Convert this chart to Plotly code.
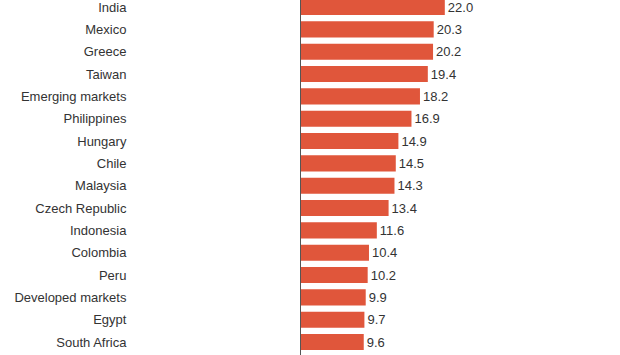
import plotly.graph_objects as go

countries = ["India", "Mexico", "Greece", "Taiwan", "Emerging markets", "Philippines",
             "Hungary", "Chile", "Malaysia", "Czech Republic", "Indonesia", "Colombia",
             "Peru", "Developed markets", "Egypt", "South Africa"]
values = [22.0, 20.3, 20.2, 19.4, 18.2, 16.9, 14.9, 14.5, 14.3, 13.4, 11.6, 10.4,
          10.2, 9.9, 9.7, 9.6]

fig = go.Figure(go.Bar(
    x=values, y=countries, orientation="h",
    marker=dict(color="#E0563B", line=dict(width=0)),
    width=0.72,
    text=[f"{v:.1f}" for v in values], textposition="outside",
    textfont=dict(family="Liberation Sans, Arial", size=13, color="#333333"),
    cliponaxis=False,
))

n = len(countries)
fig.update_layout(
    width=620, height=355,
    margin=dict(l=301, r=0, t=0, b=0),
    paper_bgcolor="white", plot_bgcolor="white",
    showlegend=False,
    font=dict(family="Liberation Sans, Arial", size=13, color="#333333"),
    xaxis=dict(range=[0, 48.8], visible=False, fixedrange=True),
    yaxis=dict(
        type="category", categoryorder="array", categoryarray=countries,
        range=[n - 1 + 0.58, -0.314],
        showline=True, linecolor="#555555", linewidth=1,
        showgrid=False, ticks="", zeroline=False,
        ticklabelstandoff=171,
        tickfont=dict(family="Liberation Sans, Arial", size=13, color="#333333"),
    ),
)

fig.write_html("out.html")
